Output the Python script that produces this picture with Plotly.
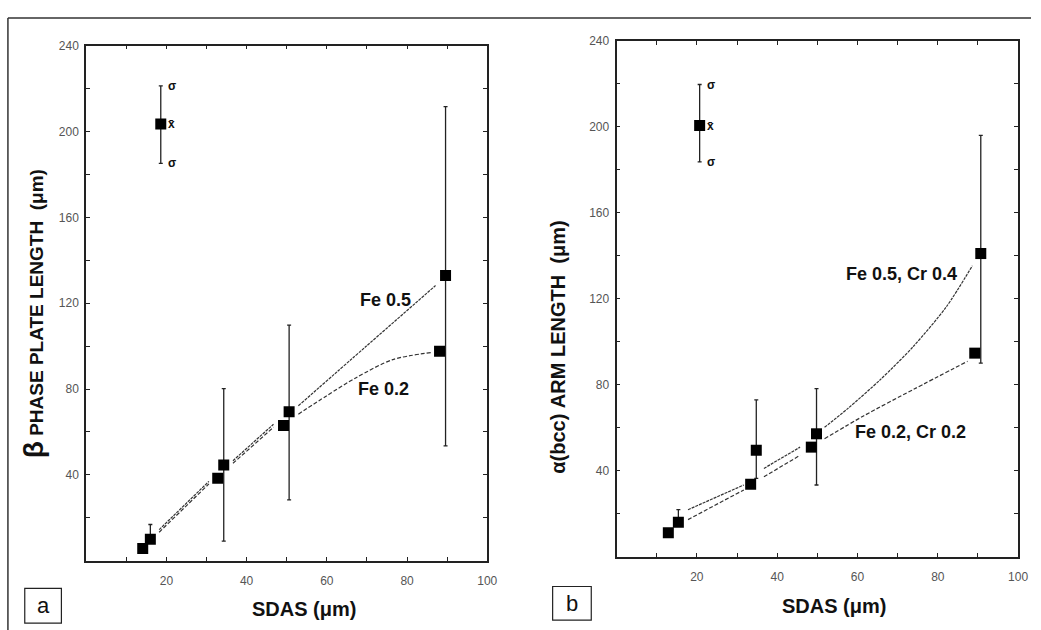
import plotly.graph_objects as go

W, H = 1041, 630

# ---------------- Panel a : beta phase plate length ----------------
a_sdas = [14.1, 16.0, 32.8, 34.3, 49.2, 50.6, 88.1, 89.6]
a_len = [5.7, 10.0, 38.4, 44.6, 63.0, 69.4, 97.6, 132.9]
a_err_plus = [0, 6.9, 0, 35.6, 0, 40.4, 0, 78.7]
a_err_minus = [0, 0, 0, 35.4, 0, 41.0, 0, 79.4]

a_fe05_x = [18.2, 30.6, None, 36.6, 46.7, None, 52.9, 69.8, 87.1]
a_fe05_y = [14.5, 37.0, None, 46.6, 63.6, None, 72.2, 99.9, 128.2]
a_fe02_x = [18.2, 30.6, None, 36.6, 46.7, None, 52.9, 59.9, 67.3, 76.4, 86.3]
a_fe02_y = [13.3, 35.8, None, 45.4, 62.2, None, 68.3, 76.8, 85.3, 93.7, 97.1]

a_ref_x = [18.6]
a_ref_y = [203.5]
a_ref_plus = [17.7]
a_ref_minus = [18.4]

# ---------------- Panel b : alpha(bcc) arm length ----------------
b_sdas = [12.9, 15.4, 33.4, 34.8, 48.5, 49.8, 89.2, 90.7]
b_len = [11.2, 16.1, 33.7, 49.5, 51.0, 57.2, 94.7, 141.0]
b_err_plus = [0, 5.8, 0, 23.5, 0, 21.0, 0, 54.9]
b_err_minus = [0, 0, 0, 13.0, 0, 23.8, 0, 50.9]

b_hi_x = [17.8, 31.7, None, 36.7, 45.7, None, 51.8, 57.5, 65.7, 73.9, 82.1, 88.6]
b_hi_y = [21.9, 33.4, None, 41.1, 51.0, None, 60.2, 68.8, 82.4, 97.8, 116.2, 135.3]
b_lo_x = [17.8, 31.7, None, 36.7, 45.7, None, 51.8, 61.6, 73.9, 87.4]
b_lo_y = [17.3, 31.1, None, 37.2, 47.2, None, 54.9, 65.6, 77.8, 90.9]

b_ref_x = [20.7]
b_ref_y = [200.5]
b_ref_plus = [19.1]
b_ref_minus = [16.9]

x_ticks = [20, 40, 60, 80, 100]
y_ticks = [40, 80, 120, 160, 200, 240]

FONT = "Liberation Sans, Arial, sans-serif"
BOLD = "Liberation Sans, Arial, sans-serif"


def pxx(p):
    return p / W


def pxy(p):
    return 1 - p / H


fig = go.Figure()


def add_panel(xa, ya, sdas, vals, ep, em, hi_x, hi_y, lo_x, lo_y,
              rx, ry, rp, rm):
    fig.add_trace(go.Scatter(x=hi_x, y=hi_y, mode="lines", xaxis=xa, yaxis=ya,
                             line=dict(color="#333", width=1.2, dash="3px,1px",
                                       shape="spline", smoothing=0.8),
                             showlegend=False, hoverinfo="skip"))
    fig.add_trace(go.Scatter(x=lo_x, y=lo_y, mode="lines", xaxis=xa, yaxis=ya,
                             line=dict(color="#333", width=1.2, dash="4px,2px",
                                       shape="spline", smoothing=0.8),
                             showlegend=False, hoverinfo="skip"))
    fig.add_trace(go.Scatter(x=sdas, y=vals, mode="markers", xaxis=xa, yaxis=ya,
                             marker=dict(symbol="square", size=11, color="black"),
                             error_y=dict(type="data", symmetric=False, array=ep,
                                          arrayminus=em, color="#222",
                                          thickness=1.3, width=2),
                             showlegend=False))
    fig.add_trace(go.Scatter(x=rx, y=ry, mode="markers", xaxis=xa, yaxis=ya,
                             marker=dict(symbol="square", size=11, color="black"),
                             error_y=dict(type="data", symmetric=False, array=rp,
                                          arrayminus=rm, color="#222",
                                          thickness=1.3, width=2),
                             showlegend=False))
    # sigma / mean labels
    for yy, t in [(ry[0] + rp[0], "σ"), (ry[0], "x̄"), (ry[0] - rm[0], "σ")]:
        fig.add_annotation(x=rx[0], y=yy, xref=xa, yref=ya, text="<b>" + t + "</b>",
                           showarrow=False, xanchor="left", yanchor="middle", xshift=5,
                           font=dict(family=BOLD, size=12, color="#111"))


add_panel("x", "y", a_sdas, a_len, a_err_plus, a_err_minus,
          a_fe05_x, a_fe05_y, a_fe02_x, a_fe02_y,
          a_ref_x, a_ref_y, a_ref_plus, a_ref_minus)
add_panel("x2", "y2", b_sdas, b_len, b_err_plus, b_err_minus,
          b_hi_x, b_hi_y, b_lo_x, b_lo_y,
          b_ref_x, b_ref_y, b_ref_plus, b_ref_minus)

curve_font = dict(family=FONT, size=18, color="#111")
for x, y, xr, yr, t in [(67.7, 121.7, "x", "y", "Fe 0.5"),
                        (67.3, 79.9, "x", "y", "Fe 0.2"),
                        (56.6, 131.5, "x2", "y2", "Fe 0.5, Cr 0.4"),
                        (58.8, 57.9, "x2", "y2", "Fe 0.2, Cr 0.2")]:
    fig.add_annotation(x=x, y=y, xref=xr, yref=yr, text="<b>" + t + "</b>",
                       showarrow=False, xanchor="left", yanchor="middle", font=curve_font)

fig.add_annotation(x=pxx(34), y=pxy(310), xref="paper", yref="paper",
                   text="<b><span style='font-size:28px'>β</span> PHASE PLATE LENGTH  (μm)</b>",
                   textangle=-90, showarrow=False, xanchor="center", yanchor="middle",
                   font=dict(family=BOLD, size=19, color="#111"))
fig.add_annotation(x=pxx(564), y=pxy(344), xref="paper", yref="paper",
                   text="<b>α(bcc) ARM LENGTH  (μm)</b>",
                   textangle=-90, showarrow=False, xanchor="center", yanchor="middle",
                   font=dict(family=BOLD, size=20, color="#111"))
for cx, cy in [(307, 609), (842, 606)]:
    fig.add_annotation(x=pxx(cx), y=pxy(cy), xref="paper", yref="paper",
                       text="<b>SDAS (μm)</b>", showarrow=False, xanchor="center",
                       yanchor="middle", font=dict(family=BOLD, size=20, color="#111"))

# panel letters in boxes
for (x0, y0, x1, y1, t) in [(25, 588, 62, 623, "a"), (558, 586, 597, 620, "b")]:
    fig.add_shape(type="rect", xref="paper", yref="paper",
                  x0=pxx(x0), x1=pxx(x1), y0=pxy(y1), y1=pxy(y0),
                  line=dict(color="#222", width=1.2), fillcolor="white")
    fig.add_annotation(x=pxx((x0 + x1) / 2), y=pxy((y0 + y1) / 2), xref="paper",
                       yref="paper", text=t, showarrow=False, xanchor="center",
                       yanchor="middle", font=dict(family=FONT, size=22, color="#111"))

# outer frame lines
fig.add_shape(type="line", xref="paper", yref="paper", x0=pxx(8), x1=1,
              y0=pxy(11), y1=pxy(11), line=dict(color="#333", width=1.5))
fig.add_shape(type="line", xref="paper", yref="paper", x0=pxx(8), x1=pxx(8),
              y0=0, y1=pxy(11), line=dict(color="#333", width=1.5))

tick_font = dict(family=FONT, size=12, color="#555")
xa_common = dict(range=[0, 100], tickvals=x_ticks, ticks="inside", ticklen=4,
                 tickcolor="#222", showline=True, linecolor="#222", linewidth=1.8,
                 mirror="allticks", showgrid=False, zeroline=False,
                 tickfont=tick_font, ticklabelstandoff=8,
                 minor=dict(dtick=10, tick0=0, ticks="inside", ticklen=4,
                            tickcolor="#222", showgrid=False))
ya_common = dict(range=[0, 240], tickvals=y_ticks, ticks="inside", ticklen=4,
                 tickcolor="#222", showline=True, linecolor="#222", linewidth=1.8,
                 mirror="allticks", showgrid=False, zeroline=False,
                 tickfont=tick_font, ticklabelstandoff=3,
                 minor=dict(dtick=20, tick0=0, ticks="inside", ticklen=4,
                            tickcolor="#222", showgrid=False))

fig.update_layout(
    width=W, height=H, autosize=False,
    margin=dict(l=0, r=0, t=0, b=0),
    paper_bgcolor="white", plot_bgcolor="white",
    showlegend=False,
    xaxis=dict(domain=[pxx(87), pxx(492)], anchor="y", **xa_common),
    yaxis=dict(domain=[pxy(560), pxy(39)], anchor="x", **ya_common),
    xaxis2=dict(domain=[pxx(622.5), pxx(1028)], anchor="y2", **xa_common),
    yaxis2=dict(domain=[pxy(556), pxy(34)], anchor="x2", **ya_common),
)

fig.write_html("out.html")
